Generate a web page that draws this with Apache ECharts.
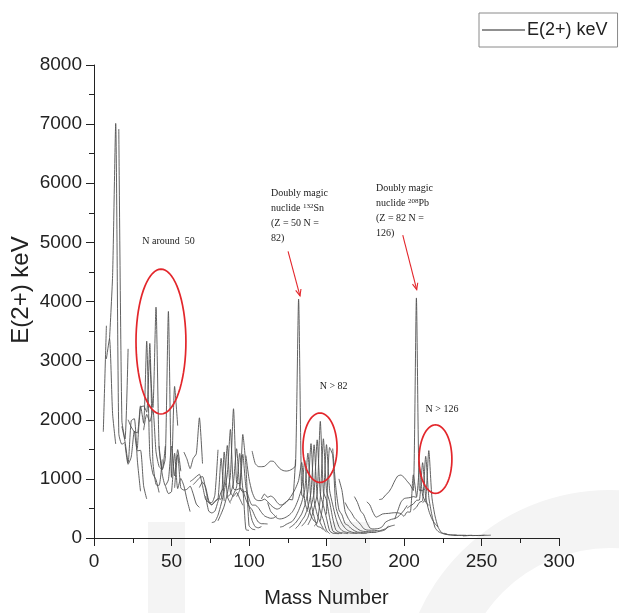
<!DOCTYPE html>
<html><head><meta charset="utf-8">
<script src="https://cdn.jsdelivr.net/npm/echarts@6/dist/echarts.min.js"></script>
<style>html,body{margin:0;padding:0;background:#fff}#c{width:619px;height:613px}</style>
</head><body><div id="c"></div>
<script>
// ---- axis ticks ----
const xTicks = [0, 50, 100, 150, 200, 250, 300];
const yTicks = [0, 1000, 2000, 3000, 4000, 5000, 6000, 7000, 8000];
const seriesName = 'E(2+) keV';
const xTitle = 'Mass Number';
const yTitle = 'E(2+) keV';

// ---- isotopic chains: [mass number, E(2+) keV] ----
const He = [[6,1797],[8,3590]];
const Be = [[8,3030],[10,3368],[12,2102],[14,1590]];
const C  = [[10,3354],[12,4439],[14,7012],[16,1766],[18,1585],[20,1618]];
const O  = [[16,6917],[18,1982],[20,1674],[22,3199]];
const Ne = [[18,1887],[20,1634],[22,1275],[24,1982],[26,2018],[28,1304],[30,791]];
const Mg = [[20,1598],[22,1247],[24,1369],[26,1809],[28,1474],[30,1483],[32,885],[34,660]];
const Si = [[22,2000],[24,1879],[26,1797],[28,1779],[30,2235],[32,1941],[34,3328],[36,1408],[38,1084],[40,986],[42,770]];
const S  = [[28,1512],[30,2211],[32,2231],[34,2128],[36,3291],[38,1292],[40,904],[42,890],[44,1329]];
const Ar = [[32,1824],[34,2091],[36,1970],[38,2168],[40,1461],[42,1208],[44,1158],[46,1554]];
const Ca = [[36,3015],[38,2206],[40,3904],[42,1525],[44,1157],[46,1346],[48,3832],[50,1027],[52,2563],[54,1900]];
const Ti = [[42,1555],[44,1083],[46,889],[48,984],[50,1554],[52,1050],[54,1495],[56,1129]];
const Cr = [[46,892],[48,752],[50,783],[52,1434],[54,835],[56,1007],[58,881],[60,646],[62,446]];
const Fe = [[52,849],[54,1408],[56,847],[58,811],[60,824],[62,877],[64,746],[66,574],[68,517]];
const Ni = [[58,1454],[60,1333],[62,1173],[64,1346],[66,1425],[68,2033],[70,1260]];
const Zn = [[62,954],[64,992],[66,1039],[68,1077],[70,885],[72,653],[74,606],[76,599],[78,730],[80,1492]];
const Ge = [[64,902],[66,957],[68,1016],[70,1040],[72,834],[74,596],[76,563],[78,619],[80,659],[82,1348],[84,625]];
const Se = [[68,854],[70,945],[72,862],[74,635],[76,559],[78,614],[80,666],[82,655],[84,1455],[86,704],[88,586]];
const Kr = [[72,710],[74,456],[76,424],[78,455],[80,617],[82,777],[84,882],[86,1565],[88,775],[90,707],[92,769],[94,666],[96,554]];
const Sr = [[76,261],[78,278],[80,386],[82,573],[84,793],[86,1077],[88,1836],[90,832],[92,815],[94,837],[96,815],[98,144],[100,129]];
const Zr = [[80,290],[82,407],[84,540],[86,752],[88,1057],[90,2186],[92,935],[94,919],[96,1751],[98,1223],[100,212],[102,152],[104,140]];
const Mo = [[86,697],[88,740],[90,948],[92,1510],[94,871],[96,778],[98,787],[100,536],[102,297],[104,192],[106,172],[108,193]];
const Ru = [[88,616],[90,739],[92,865],[94,1431],[96,833],[98,652],[100,540],[102,475],[104,358],[106,270],[108,242],[110,241],[112,237]];
const Pd = [[92,700],[94,814],[96,1415],[98,863],[100,666],[102,556],[104,556],[106,512],[108,434],[110,374],[112,349],[114,333],[116,340],[118,378]];
const Cd = [[98,1395],[100,1004],[102,777],[104,658],[106,633],[108,633],[110,658],[112,617],[114,558],[116,513],[118,488],[120,506],[122,569],[124,613],[126,652],[128,645],[130,1325]];
const Sn = [[102,1472],[104,1260],[106,1208],[108,1206],[110,1212],[112,1257],[114,1300],[116,1294],[118,1230],[120,1171],[122,1141],[124,1132],[126,1141],[128,1169],[130,1221],[132,4041],[134,726],[136,682]];
const Te = [[108,660],[110,744],[112,689],[114,709],[116,679],[118,606],[120,560],[122,564],[124,603],[126,666],[128,743],[130,839],[132,974],[134,1279],[136,606],[138,443]];
const Xe = [[112,600],[114,450],[116,394],[118,337],[120,322],[122,331],[124,354],[126,389],[128,443],[130,536],[132,668],[134,847],[136,1313],[138,589],[140,377],[142,287],[144,252]];
const Ba = [[120,185],[122,196],[124,230],[126,256],[128,284],[130,357],[132,465],[134,605],[136,819],[138,1436],[140,602],[142,360],[144,199],[146,181],[148,142]];
const Ce = [[126,170],[128,207],[130,254],[132,325],[134,409],[136,552],[138,789],[140,1596],[142,641],[144,397],[146,258],[148,158],[150,97]];
const Nd = [[130,159],[132,213],[134,295],[136,374],[138,521],[140,774],[142,1576],[144,696],[146,454],[148,302],[150,130],[152,73]];
const Sm = [[134,200],[136,260],[138,347],[140,531],[142,768],[144,1660],[146,747],[148,550],[150,334],[152,122],[154,82],[156,76],[158,73]];
const Gd = [[138,221],[140,329],[142,515],[144,743],[146,1972],[148,784],[150,638],[152,344],[154,123],[156,89],[158,80],[160,75]];
const Dy = [[142,200],[144,260],[146,683],[148,1678],[150,804],[152,614],[154,335],[156,138],[158,99],[160,87],[162,81],[164,73]];
const Er = [[146,280],[148,650],[150,1579],[152,808],[154,561],[156,345],[158,192],[160,126],[162,102],[164,91],[166,81],[168,80],[170,79]];
const Yb = [[150,400],[152,1531],[154,1401],[156,536],[158,358],[160,243],[162,167],[164,123],[166,102],[168,88],[170,84],[172,79],[174,76],[176,82]];
const Hf = [[154,1513],[156,858],[158,477],[160,390],[162,243],[164,211],[166,159],[168,124],[170,100],[172,95],[174,91],[176,88],[178,93],[180,93],[182,98]];
const W  = [[158,1000],[160,800],[162,450],[164,332],[166,252],[168,200],[170,157],[172,123],[174,112],[176,109],[178,106],[180,104],[182,100],[184,111],[186,122],[188,143],[190,207]];
const Os = [[162,600],[164,500],[166,431],[168,341],[170,287],[172,228],[174,159],[176,135],[178,132],[180,132],[182,127],[184,120],[186,137],[188,155],[190,187],[192,206],[194,218]];
const Pt = [[168,700],[170,600],[172,459],[174,394],[176,264],[178,170],[180,153],[182,155],[184,163],[186,192],[188,266],[190,296],[192,317],[194,328],[196,356],[198,407],[200,470],[202,550]];
const Hg = [[176,614],[178,558],[180,434],[182,352],[184,375],[186,405],[188,413],[190,416],[192,423],[194,428],[196,426],[198,412],[200,368],[202,440],[204,437],[206,1068],[208,700]];
const Pb = [[184,650],[186,662],[188,724],[190,773],[192,854],[194,965],[196,1049],[198,1064],[200,1026],[202,961],[204,899],[206,803],[208,4060],[210,800],[212,805],[214,837]];
const Po = [[194,320],[196,463],[198,605],[200,666],[202,677],[204,684],[206,700],[208,687],[210,1181],[212,727],[214,609],[216,550]];
const Rn = [[202,504],[204,543],[206,575],[208,636],[210,644],[212,1274],[214,694],[216,462],[218,324],[220,241],[222,186]];
const Ra = [[206,474],[208,520],[210,603],[212,629],[214,1382],[216,688],[218,389],[220,178],[222,111],[224,84],[226,68],[228,64]];
const Th = [[212,600],[214,650],[216,1478],[218,690],[220,373],[222,183],[224,98],[226,72],[228,58],[230,53],[232,49],[234,50]];
const U  = [[226,81],[228,59],[230,52],[232,48],[234,43],[236,45],[238,45],[240,45]];
const Pu = [[232,47],[234,46],[236,45],[238,44],[240,43],[242,45],[244,46]];
const Cm = [[238,35],[240,38],[242,42],[244,43],[246,43],[248,43]];
const Cf = [[244,40],[246,42],[248,41],[250,43],[252,46]];
const Fm = [[248,44],[250,44],[252,47],[254,45],[256,48]];

const chains = [He,Be,C,O,Ne,Mg,Si,S,Ar,Ca,Ti,Cr,Fe,Ni,Zn,Ge,Se,Kr,Sr,Zr,Mo,Ru,Pd,Cd,Sn,Te,Xe,Ba,Ce,Nd,Sm,Gd,Dy,Er,Yb,Hf,W,Os,Pt,Hg,Pb,Po,Rn,Ra,Th,U,Pu,Cm,Cf,Fm];

// ---- annotation anchors (data units) ----
const noteN50   = {text: 'N around  50', at: [31.2, 5017]};
const noteN82   = {text: 'N > 82', at: [145.6, 2568]};
const noteN126  = {text: 'N > 126', at: [213.9, 2183]};
const noteSn    = {lines: ['Doubly magic', ['nuclide ', '132', 'Sn'], '(Z = 50 N =', '82)'], at: [114.2, 5823]};
const notePb    = {lines: ['Doubly magic', ['nuclide ', '208', 'Pb'], '(Z = 82 N =', '126)'], at: [181.9, 5907]};
const arrowSn   = {from: [125.2, 4849], to: [132.9, 4094]};
const arrowPb   = {from: [199.2, 5123], to: [208.2, 4200]};
const ringN50   = {c: [43.2, 3322], r: [16.1, 1225]};
const ringN82   = {c: [145.8, 1527], r: [11.0, 587]};
const ringN126  = {c: [220.3, 1334], r: [10.6, 579]};

const chart = echarts.init(document.getElementById('c'), null, {renderer: 'canvas'});
const FONT = '"Liberation Sans", Arial, sans-serif';
const SERIF = '"Liberation Serif", "Times New Roman", serif';

const series = chains.map(d => ({
  type: 'line', name: seriesName, data: d, symbol: 'none', smooth: 0.2,
  lineStyle: {color: '#505050', width: 0.9}, emphasis: {disabled: true}, silent: true, z: 3
}));

chart.setOption({
  animation: false,
  backgroundColor: '#fff',
  grid: {left: 94, right: 60, top: 65, bottom: 71, containLabel: false},
  legend: {
    data: [{name: seriesName, icon: 'rect'}], left: 479, top: 13, padding: [8, 10, 8, 3],
    itemWidth: 43, itemHeight: 1, itemGap: 4,
    borderColor: '#8a8a8a', borderWidth: 1,
    itemStyle: {color: '#222', borderWidth: 0},
    textStyle: {fontFamily: FONT, fontSize: 18, color: '#222', padding: [0, 0, 0, -3]}
  },
  xAxis: {
    type: 'value', min: xTicks[0], max: xTicks[xTicks.length - 1], interval: 50,
    name: xTitle, nameLocation: 'middle', nameGap: 50,
    nameTextStyle: {fontFamily: FONT, fontSize: 20, color: '#222'},
    axisLine: {lineStyle: {color: '#222', width: 1}},
    axisTick: {show: true, inside: false, length: 8, lineStyle: {color: '#222'}},
    minorTick: {show: true, splitNumber: 2, length: 5, lineStyle: {color: '#222'}},
    splitLine: {show: false},
    axisLabel: {fontFamily: FONT, fontSize: 19, color: '#222', margin: 14, formatter: v => String(v)}
  },
  yAxis: {
    type: 'value', min: yTicks[0], max: yTicks[yTicks.length - 1], interval: 1000,
    axisLine: {show: true, lineStyle: {color: '#222', width: 1}},
    axisTick: {show: true, inside: false, length: 8, lineStyle: {color: '#222'}},
    minorTick: {show: true, splitNumber: 2, length: 5, lineStyle: {color: '#222'}},
    splitLine: {show: false},
    axisLabel: {fontFamily: FONT, fontSize: 19, color: '#222', margin: 12, formatter: v => String(v)}
  },
  series: series
});

// ---- annotations ----
const px = p => chart.convertToPixel({gridIndex: 0}, p);
const measure = (() => { const cv = document.createElement('canvas').getContext('2d');
  return (t, f) => { cv.font = f; return cv.measureText(t).width; }; })();

const RED = '#e3262b';
const graphics = [];

// watermark
const WM = '#f4f4f4';
graphics.push({type: 'rect', z: -10, silent: true, shape: {x: 148, y: 522, width: 37, height: 100}, style: {fill: WM}});
graphics.push({type: 'rect', z: -10, silent: true, shape: {x: 330, y: 522, width: 40, height: 100}, style: {fill: WM}});
graphics.push({type: 'ring', z: -10, silent: true, shape: {cx: 610, cy: 700, r: 210, r0: 152}, style: {fill: WM}});

// y-axis title
graphics.push({type: 'text', z: 20, silent: true, x: 21, y: 290, rotation: Math.PI / 2,
  style: {text: yTitle, font: '24px ' + FONT, fill: '#222', align: 'center', verticalAlign: 'middle'}});

function ellipse(o) {
  const c = px(o.c), e = px([o.c[0] + o.r[0], o.c[1] + o.r[1]]);
  const rx = e[0] - c[0], ry = c[1] - e[1];
  const pts = [];
  for (let i = 0; i < 72; i++) { const t = i / 72 * Math.PI * 2; pts.push([c[0] + rx * Math.cos(t), c[1] + ry * Math.sin(t)]); }
  graphics.push({type: 'polygon', z: 20, silent: true, shape: {points: pts}, style: {fill: null, stroke: RED, lineWidth: 1.7}});
}
[ringN50, ringN82, ringN126].forEach(ellipse);

function arrow(o) {
  const a = px(o.from), b = px(o.to);
  graphics.push({type: 'line', z: 20, silent: true, shape: {x1: a[0], y1: a[1], x2: b[0], y2: b[1]}, style: {stroke: RED, lineWidth: 1.1}});
  const ang = Math.atan2(b[1] - a[1], b[0] - a[0]), L = 7, w = 0.4;
  graphics.push({type: 'polyline', z: 20, silent: true, shape: {points: [
    [b[0] - L * Math.cos(ang - w), b[1] - L * Math.sin(ang - w)], b,
    [b[0] - L * Math.cos(ang + w), b[1] - L * Math.sin(ang + w)]]}, style: {stroke: RED, lineWidth: 1.1, fill: null}});
}
[arrowSn, arrowPb].forEach(arrow);

const TF = '10px ' + SERIF, SF = '7px ' + SERIF;
function text(t, x, y, font) {
  graphics.push({type: 'text', z: 20, silent: true, x: x, y: y, style: {text: t, font: font || TF, fill: '#1a1a1a', align: 'left', verticalAlign: 'middle'}});
}
[noteN50, noteN82, noteN126].forEach(n => { const p = px(n.at); text(n.text, p[0], p[1]); });
[noteSn, notePb].forEach(n => {
  const p = px(n.at);
  n.lines.forEach((ln, i) => {
    const y = p[1] + i * 15;
    if (typeof ln === 'string') { text(ln, p[0], y); }
    else {
      let x = p[0];
      text(ln[0], x, y); x += measure(ln[0], TF);
      text(ln[1], x, y - 3, SF); x += measure(ln[1], SF);
      text(ln[2], x, y);
    }
  });
});
chart.setOption({graphic: graphics});
</script></body></html>
